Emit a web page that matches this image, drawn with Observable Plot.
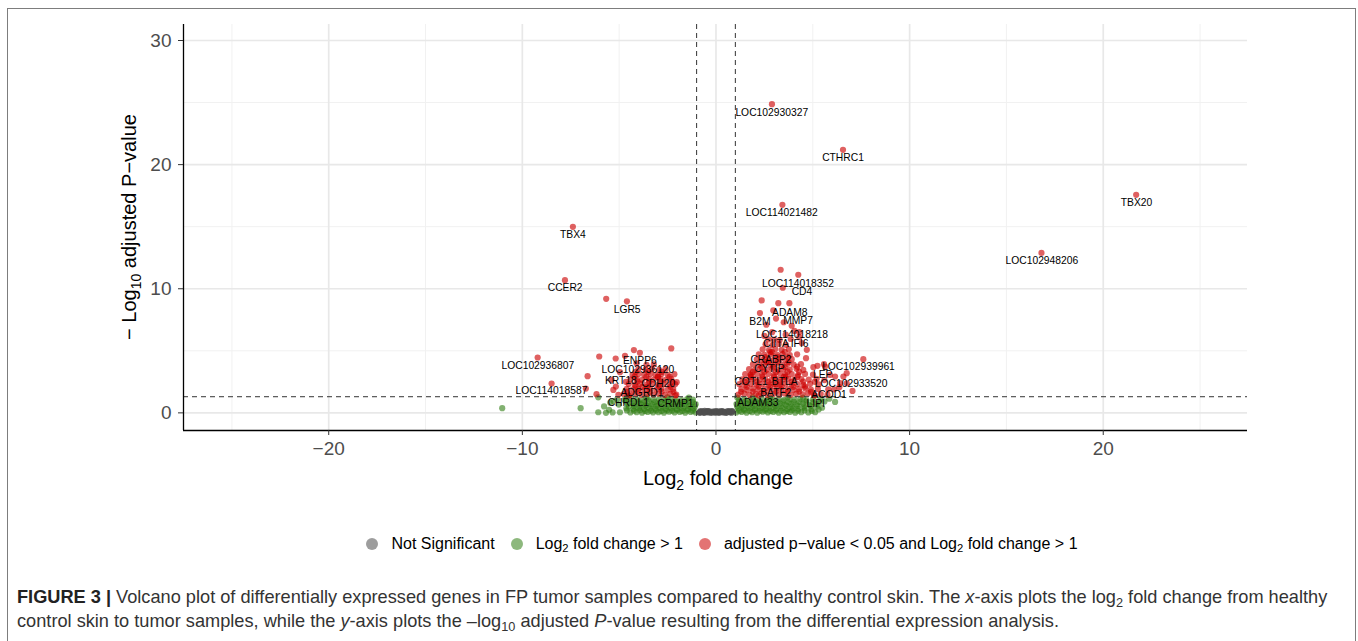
<!DOCTYPE html>
<html>
<head>
<meta charset="utf-8">
<script src="https://cdn.jsdelivr.net/npm/d3@7"></script>
<script src="https://cdn.jsdelivr.net/npm/@observablehq/plot@0.6"></script>
<style>
  body { margin: 0; background: #fff; font-family: "Liberation Sans", Arial, Helvetica, sans-serif; }
  #wrap { position: relative; width: 1358px; height: 641px; overflow: hidden; background: #fff; }
  #chart { position: absolute; left: 0; top: 0; }
  #frame { position: absolute; left: 7px; top: 8px; width: 1349px; height: 720px; border: 1.5px solid #7d7d7d; box-sizing: border-box; pointer-events: none; }
  #legend { position: absolute; left: 0; top: 532px; width: 1358px; height: 24px; display: flex; justify-content: center; align-items: center; font-size: 16px; color: #000; padding-left: 86px; box-sizing: border-box; }
  .item { display: flex; align-items: center; margin: 0 8px; white-space: nowrap; }
  .key { width: 12px; height: 12px; border-radius: 50%; margin-right: 13px; }
  sub { font-size: 0.7em; line-height: 0; vertical-align: -0.3em; }
  #caption { position: absolute; left: 17px; top: 585px; font-size: 18.2px; line-height: 24px; color: #333; white-space: nowrap; }
  #caption b { color: #222; }
</style>
</head>
<body>
<div id="wrap">
  <div id="chart"></div>
  <div id="frame"></div>
  <div id="legend"></div>
  <div id="caption"><b>FIGURE 3 |</b> Volcano plot of differentially expressed genes in FP tumor samples compared to healthy control skin. The <i>x</i>-axis plots the log<sub>2</sub> fold change from healthy<br>control skin to tumor samples, while the <i>y</i>-axis plots the –log<sub>10</sub> adjusted <i>P</i>-value resulting from the differential expression analysis.</div>
</div>
<script>
// ---------- data ----------
const categories = ["Not Significant", "Log\u2082 fold change > 1", "adjusted p\u2212value < 0.05 and Log\u2082 fold change > 1"];
const categoryColors = ["#4d4d4d", "#2f7d12", "#cc0000"];

const xMajorTicks = [-20, -10, 0, 10, 20];
const xMinorTicks = [-25, -15, -5, 5, 15, 25];
const yMajorTicks = [0, 10, 20, 30];
const yMinorTicks = [5, 15, 25];
const fcCutoffs = [-1, 1];
const pCutoff = 1.30103; // -log10(0.05)

// Not significant (|log2FC| < 1)
const greyPts = [
  [-0.83,0.06],[-0.7,0.12],[-0.57,0.03],[-0.44,0.14],[-0.31,0.05],[-0.18,0.11],[-0.05,0.02],[0.08,0.13],[0.21,0.05],[0.34,0.12],[0.47,0.03],[0.6,0.14],[0.73,0.06],[0.83,0.11],
  [-0.8,0.15],[-0.63,0.0],[-0.5,0.08],[-0.37,0.15],[-0.24,0.0],[-0.11,0.09],[0.02,0.06],[0.15,0.0],[0.28,0.15],[0.41,0.08],[0.54,0.0],[0.67,0.1],[0.8,0.01],[-0.83,0.0],[0.83,0.15],
  [-0.76,0.07],[-0.4,0.04],[-0.02,0.14],[0.37,0.03],[0.71,0.13],[-0.58,0.16],[0.19,0.1]
];

// Log2 fold change > 1, not significant
const greenPts = [
  [1.05,0.03],[1.32,0.08],[1.58,0.01],[1.86,0.06],[2.13,0.02],[2.41,0.09],[2.68,0.03],[2.96,0.07],[3.24,0.01],[3.52,0.05],[3.81,0.08],[4.09,0.02],[4.4,0.06],[4.77,0.04],[5.12,0.05],
  [1.2,0.18],[1.47,0.2],[1.74,0.16],[2.0,0.21],[2.27,0.17],[2.55,0.19],[2.82,0.15],[3.1,0.2],[3.37,0.18],[3.66,0.16],[3.94,0.21],[4.24,0.17],[4.57,0.2],[4.95,0.15],
  [1.15,0.36],[1.44,0.31],[1.72,0.39],[2.01,0.33],[2.28,0.38],[2.57,0.32],[2.84,0.37],[3.12,0.34],[3.41,0.39],[3.69,0.31],[3.97,0.36],[4.26,0.33],[4.58,0.38],[4.92,0.3],
  [1.09,0.52],[1.37,0.55],[1.65,0.5],[1.94,0.56],[2.22,0.51],[2.5,0.54],[2.78,0.5],[3.07,0.55],[3.35,0.52],[3.64,0.57],[3.92,0.5],[4.22,0.54],[4.54,0.51],[4.88,0.55],[5.2,0.5],
  [1.06,0.71],[1.34,0.66],[1.62,0.73],[1.9,0.68],[2.19,0.74],[2.46,0.67],[2.74,0.72],[3.03,0.69],[3.31,0.75],[3.6,0.66],[3.88,0.71],[4.18,0.68],[4.49,0.73],[4.83,0.65],[5.21,0.7],
  [1.2,0.87],[1.49,0.9],[1.77,0.85],[2.05,0.89],[2.33,0.86],[2.61,0.91],[2.89,0.86],[3.17,0.88],[3.46,0.92],[3.75,0.85],[4.03,0.89],[4.33,0.87],[4.65,0.9],[5.0,0.86],[5.35,0.88],
  [1.18,1.05],[1.48,1.1],[1.77,1.02],[2.07,1.08],[2.36,1.12],[2.64,1.04],[2.92,1.09],[3.21,1.13],[3.5,1.03],[3.79,1.1],[4.06,1.06],[4.36,1.11],[4.68,1.01],[5.02,1.08],[5.4,1.12],
  [6.15,0.88],[5.6,0.92],[5.48,0.42],[5.85,1.14],[5.3,0.28],[1.1,1.24],[1.9,1.25],[2.8,1.24],[3.7,1.26],[4.5,1.23],
  [-1.05,0.04],[-1.31,0.08],[-1.59,0.02],[-1.87,0.07],[-2.14,0.03],[-2.42,0.09],[-2.69,0.02],[-2.97,0.06],[-3.25,0.04],[-3.53,0.08],[-3.82,0.02],[-4.1,0.06],[-4.42,0.03],[-4.96,0.05],[-5.34,0.04],[-5.68,0.0],[-6.08,0.05],
  [-1.2,0.18],[-1.47,0.2],[-1.74,0.16],[-2.0,0.21],[-2.27,0.17],[-2.55,0.19],[-2.82,0.15],[-3.1,0.2],[-3.37,0.18],[-3.66,0.16],[-3.94,0.21],[-4.24,0.17],[-4.6,0.2],
  [-1.16,0.35],[-1.45,0.32],[-1.73,0.38],[-2.02,0.31],[-2.3,0.37],[-2.58,0.33],[-2.86,0.39],[-3.13,0.34],[-3.42,0.36],[-3.71,0.31],[-3.98,0.38],[-4.27,0.33],[-4.63,0.37],
  [-1.09,0.52],[-1.37,0.55],[-1.65,0.5],[-1.94,0.56],[-2.22,0.51],[-2.5,0.54],[-2.78,0.5],[-3.07,0.55],[-3.35,0.52],[-3.64,0.57],[-3.92,0.5],[-4.22,0.54],[-4.5,0.51],
  [-1.05,0.7],[-1.34,0.67],[-1.62,0.73],[-1.91,0.66],[-2.19,0.72],[-2.47,0.69],[-2.76,0.74],[-3.04,0.68],[-3.33,0.71],[-3.62,0.66],[-3.91,0.73],[-4.22,0.69],[-4.56,0.72],[-5.02,0.67],
  [-1.2,0.87],[-1.49,0.9],[-1.77,0.85],[-2.05,0.89],[-2.33,0.86],[-2.61,0.91],[-2.89,0.86],[-3.17,0.88],[-3.46,0.92],[-3.75,0.85],[-4.03,0.89],[-4.33,0.87],[-4.65,0.9],[-5.3,0.95],
  [-1.19,1.06],[-1.49,1.1],[-1.78,1.03],[-2.08,1.09],[-2.37,1.12],[-2.66,1.04],[-2.94,1.1],[-3.22,1.05],[-3.51,1.11],[-3.8,1.03],[-4.07,1.08],[-4.36,1.12],[-4.72,1.04],[-5.1,1.09],
  [-11.04,0.38],[-6.99,0.38],[-6.08,1.25],[-5.78,0.52],[-5.46,0.82],[-5.52,0.25],[-1.4,1.24],[-2.5,1.25],[-3.6,1.24],[-4.6,1.26]
];

// adjusted p < 0.05 and |log2FC| > 1 (unlabelled)
const redPts = [
  [1.15,1.48],[1.46,1.55],[1.74,1.45],[2.06,1.52],[2.34,1.58],[2.66,1.44],[2.95,1.53],[3.26,1.47],[3.54,1.56],[3.86,1.46],[4.14,1.54],[4.46,1.49],[4.75,1.57],[5.06,1.45],[5.41,1.52],[5.76,1.47],
  [1.3,1.7],[1.9,1.72],[2.5,1.7],[3.1,1.72],[3.7,1.7],[4.3,1.72],[4.9,1.7],
  [1.31,1.92],[1.6,1.86],[1.91,1.95],[2.19,1.88],[2.51,1.93],[2.79,1.87],[3.11,1.96],[3.39,1.89],[3.71,1.94],[4.01,1.86],[4.29,1.92],[4.61,1.97],[4.9,1.88],[5.26,1.93],[6.1,1.9],
  [1.6,2.1],[2.2,2.12],[2.8,2.1],[3.4,2.12],[4.0,2.1],[4.6,2.12],
  [1.21,2.31],[1.51,2.26],[1.8,2.34],[2.11,2.28],[2.39,2.35],[2.71,2.27],[2.99,2.33],[3.31,2.29],[3.59,2.36],[3.91,2.27],[4.2,2.32],[4.51,2.25],[4.86,2.34],[5.31,2.3],[6.41,2.4],[6.75,2.38],
  [1.5,2.5],[2.1,2.52],[2.7,2.5],[3.3,2.52],[3.9,2.5],[4.5,2.52],[5.1,2.5],
  [1.36,2.71],[1.66,2.67],[1.94,2.74],[2.26,2.68],[2.54,2.73],[2.86,2.66],[3.14,2.72],[3.46,2.69],[3.74,2.75],[4.06,2.67],[4.41,2.72],[4.79,2.68],[5.2,2.74],[5.6,2.64],[6.37,2.07],
  [1.8,2.9],[2.4,2.92],[3.0,2.9],[3.6,2.92],[4.2,2.9],
  [1.51,3.12],[1.79,3.07],[2.11,3.14],[2.39,3.08],[2.71,3.13],[2.99,3.06],[3.31,3.15],[3.59,3.09],[3.91,3.12],[4.24,3.05],[4.6,3.14],[5.01,3.08],[5.89,3.06],[6.15,2.93],[6.58,2.93],
  [1.9,3.3],[2.5,3.32],[3.1,3.3],[3.7,3.32],[4.3,3.3],
  [1.71,3.52],[2.01,3.46],[2.29,3.54],[2.61,3.48],[2.89,3.55],[3.21,3.47],[3.49,3.53],[3.81,3.49],[4.16,3.55],[4.51,3.46],[5.03,3.68],
  [2.35,3.7],[2.95,3.72],[3.55,3.7],[4.2,3.72],
  [1.91,3.91],[2.21,3.86],[2.49,3.94],[2.81,3.88],[3.09,3.93],[3.41,3.87],[3.69,3.95],[4.01,3.89],[4.39,3.92],[5.24,3.79],[5.63,3.73],
  [2.6,4.1],[3.2,4.12],[3.75,4.1],
  [2.11,4.32],[2.39,4.26],[2.71,4.34],[2.99,4.28],[3.31,4.35],[3.59,4.27],[3.91,4.33],[4.65,4.41],
  [2.55,4.5],[3.15,4.52],[3.7,4.5],
  [2.21,4.71],[2.51,4.67],[2.84,4.74],[3.16,4.68],[3.44,4.73],[3.81,4.66],[4.19,4.72],
  [2.9,4.9],[3.55,4.92],
  [2.41,5.12],[2.74,5.06],[3.06,5.14],[3.39,5.08],[3.76,5.13],[4.69,5.08],
  [2.56,5.52],[2.91,5.47],[3.24,5.55],[3.61,5.48],[4.43,5.62],
  [2.71,5.92],[3.29,5.87],[3.86,5.95],
  [3.34,11.53],[2.36,9.06],[3.22,8.84],[2.96,8.25],[3.1,7.6],[3.5,7.3],[2.6,7.1],[4.05,6.6],[2.9,6.5],[2.5,6.2],[4.3,6.5],[7.05,1.77],
  [-2.05,1.47],[-2.36,1.54],[-2.64,1.45],[-2.96,1.55],[-3.24,1.48],[-3.56,1.53],[-3.84,1.46],[-4.16,1.56],[-4.44,1.49],[-4.76,1.52],[-5.04,1.46],
  [-2.2,1.7],[-2.8,1.72],[-3.4,1.7],[-4.0,1.72],[-4.6,1.7],
  [-2.21,1.92],[-2.49,1.87],[-2.81,1.94],[-3.09,1.88],[-3.41,1.95],[-3.69,1.86],[-4.01,1.93],[-4.29,1.89],[-4.61,1.94],[-5.3,1.85],
  [-2.35,2.1],[-2.95,2.12],[-3.55,2.1],[-4.15,2.12],
  [-2.11,2.31],[-2.39,2.27],[-2.71,2.34],[-2.99,2.26],[-3.31,2.33],[-3.59,2.28],[-3.91,2.35],[-4.19,2.27],[-4.51,2.32],[-5.17,2.12],
  [-2.25,2.5],[-2.85,2.52],[-3.45,2.5],[-4.05,2.52],[-4.65,2.5],
  [-2.03,2.47],[-2.31,2.72],[-2.61,2.67],[-2.89,2.74],[-3.21,2.68],[-3.49,2.73],[-3.81,2.66],[-4.09,2.72],[-4.41,2.69],[-5.39,2.66],
  [-2.4,2.9],[-3.0,2.92],[-3.6,2.9],[-4.2,2.92],
  [-2.15,3.12],[-2.49,3.07],[-2.81,3.13],[-3.11,3.06],[-3.39,3.14],[-3.71,3.08],[-4.01,3.13],[-4.31,3.06],
  [-2.8,3.3],[-3.5,3.32],[-4.15,3.3],
  [-2.61,3.52],[-2.94,3.47],[-3.31,3.54],[-3.64,3.48],[-4.0,3.53],
  [-3.21,3.91],[-3.59,3.87],
  [-6.03,4.54],[-5.18,4.38],[-4.24,5.06],[-4.70,4.6],[-2.31,5.19],[-6.63,2.96],[-6.72,1.96],[-6.17,1.51],[-5.67,9.19]
];

// labelled significant genes: name, log2FC, -log10 padj, label position (data units, as repelled in the picture)
const geneNames = ["LOC102930327","CTHRC1","LOC114021482","TBX4","TBX20","LOC102948206","CCER2","LGR5","LOC102936807","LOC114018587",
  "LOC114018352","CD4","ADAM8","B2M","MMP7","LOC114018218","CIITA","IFI6","CRABP2","CYTIP","COTL1","BTLA","BATF2","ADAM33",
  "LEP","LOC102939961","LOC102933520","ACOD1","LIPI",
  "ENPP6","LOC102936120","KRT18","CDH20","ADGRD1","CHRDL1","CRMP1"];
const geneFC = [2.89,6.56,3.43,-7.39,21.70,16.81,-7.80,-4.60,-9.21,-8.49,
  4.25,3.45,3.79,2.27,3.91,3.6,3.0,4.3,2.8,2.7,1.8,3.5,3.1,2.2,
  5.58,7.61,6.75,5.8,5.1,
  -3.93,-4.1,-4.96,-3.0,-3.8,-4.5,-2.1];
const geneP = [24.87,21.19,16.76,14.99,17.57,12.89,10.69,8.99,4.46,2.36,
  11.13,10.08,8.84,8.04,7.02,6.3,5.9,6.1,4.9,4.1,3.1,2.9,2.3,1.4,
  3.92,4.33,3.2,1.9,1.4,
  4.84,4.0,3.28,2.9,2.1,1.4,1.4];
const labelFC = [2.88,6.56,3.40,-7.39,21.72,16.83,-7.79,-4.59,-9.20,-8.50,
  4.23,4.44,3.81,2.27,4.24,3.93,3.10,4.32,2.84,2.76,1.81,3.55,3.09,2.16,
  5.51,7.36,6.98,5.84,5.15,
  -3.93,-4.03,-4.91,-2.98,-3.82,-4.53,-2.09];
const labelP = [24.2,20.53,16.12,14.34,16.92,12.27,10.07,8.35,3.84,1.77,
  10.44,9.77,8.11,7.33,7.41,6.31,5.56,5.56,4.29,3.55,2.55,2.5,1.66,0.8,
  3.06,3.75,2.34,1.50,0.75,
  4.24,3.47,2.60,2.34,1.61,0.85,0.75];

// ---------- build ----------
const toRows = (pts, cat) => pts.map(([x, y]) => ({x, y, cat}));
const grey = toRows(greyPts, 0), green = toRows(greenPts, 1), red = toRows(redPts, 2);
const genes = geneNames.map((name, i) => ({name, x: geneFC[i], y: geneP[i], lx: labelFC[i], ly: labelP[i]}));

const font = '"Liberation Sans", Arial, Helvetica, sans-serif';
const xDomain = [-27.5, 27.45], yDomain = [-1.42, 31.29];
const fmt = d => d < 0 ? "\u2212" + Math.abs(d) : String(d);
const opac = [0.8, 0.6, 0.62];
const keyOpacity = 0.55;

const plot = Plot.plot({
  width: 1358, height: 500,
  marginLeft: 183, marginRight: 111, marginTop: 24, marginBottom: 70,
  style: {fontFamily: font, background: "transparent", overflow: "visible"},
  x: {domain: xDomain},
  y: {domain: yDomain},
  marks: [
    Plot.ruleX(xMinorTicks, {stroke: "#f1f1f1", strokeWidth: 1}),
    Plot.ruleY(yMinorTicks, {stroke: "#f1f1f1", strokeWidth: 1}),
    Plot.ruleX(xMajorTicks, {stroke: "#e8e8e8", strokeWidth: 1.7}),
    Plot.ruleY(yMajorTicks, {stroke: "#e8e8e8", strokeWidth: 1.7}),
    Plot.dot(green, {x: "x", y: "y", r: 3.1, fill: categoryColors[1], fillOpacity: opac[1], stroke: null}),
    Plot.dot(grey, {x: "x", y: "y", r: 3.1, fill: categoryColors[0], fillOpacity: opac[0], stroke: null}),
    Plot.dot(red, {x: "x", y: "y", r: 3.1, fill: categoryColors[2], fillOpacity: opac[2], stroke: null}),
    Plot.dot(genes, {x: "x", y: "y", r: 3.1, fill: categoryColors[2], fillOpacity: opac[2], stroke: null}),
    Plot.ruleX(fcCutoffs, {stroke: "#333", strokeWidth: 1, strokeDasharray: "5,4"}),
    Plot.ruleY([pCutoff], {stroke: "#333", strokeWidth: 1, strokeDasharray: "5,4"}),
    Plot.text(genes, {x: "lx", y: "ly", text: "name", fontSize: 10.3, fill: "#000", textAnchor: "middle"}),
    Plot.ruleX([xDomain[0]], {stroke: "#000", strokeWidth: 1.3}),
    Plot.ruleY([yDomain[0]], {stroke: "#000", strokeWidth: 1.3}),
    Plot.axisX({ticks: xMajorTicks, tickSize: 5, tickPadding: 6, fontSize: 19, label: null, tickFormat: fmt, stroke: "#333"}),
    Plot.axisY({ticks: yMajorTicks, tickSize: 5, tickPadding: 7, fontSize: 19, label: null, tickFormat: fmt, stroke: "#333"})
  ]
});
document.getElementById("chart").appendChild(plot);

const svg = d3.select(plot);
svg.selectAll('[aria-label="x-axis tick label"] text, [aria-label="y-axis tick label"] text').attr("fill", "#4d4d4d");
svg.selectAll('[aria-label="x-axis tick label"], [aria-label="y-axis tick label"]').attr("fill", "#4d4d4d");

// axis titles
const xt = svg.append("text").attr("x", 718).attr("y", 478).attr("dy", "0.35em")
  .attr("text-anchor", "middle").attr("font-size", 20).attr("fill", "#000").attr("font-family", font);
xt.append("tspan").text("Log");
xt.append("tspan").attr("font-size", 14).attr("dy", 5).text("2");
xt.append("tspan").attr("dy", -5).text(" fold change");

const yt = svg.append("text").attr("transform", "translate(129,227) rotate(-90)").attr("dy", "0.35em")
  .attr("text-anchor", "middle").attr("font-size", 20).attr("fill", "#000").attr("font-family", font);
yt.append("tspan").text("\u2212 Log");
yt.append("tspan").attr("font-size", 14).attr("dy", 5).text("10");
yt.append("tspan").attr("dy", -5).text(" adjusted P\u2212value");

// legend
const legend = d3.select("#legend");
const legendHtml = ["Not Significant", "Log<sub>2</sub> fold change &gt; 1", "adjusted p\u2212value &lt; 0.05 and Log<sub>2</sub> fold change &gt; 1"];
categories.forEach((c, i) => {
  const it = legend.append("div").attr("class", "item");
  it.append("div").attr("class", "key").style("background", categoryColors[i]).style("opacity", keyOpacity);
  it.append("span").html(legendHtml[i]);
});
</script>
</body>
</html>
